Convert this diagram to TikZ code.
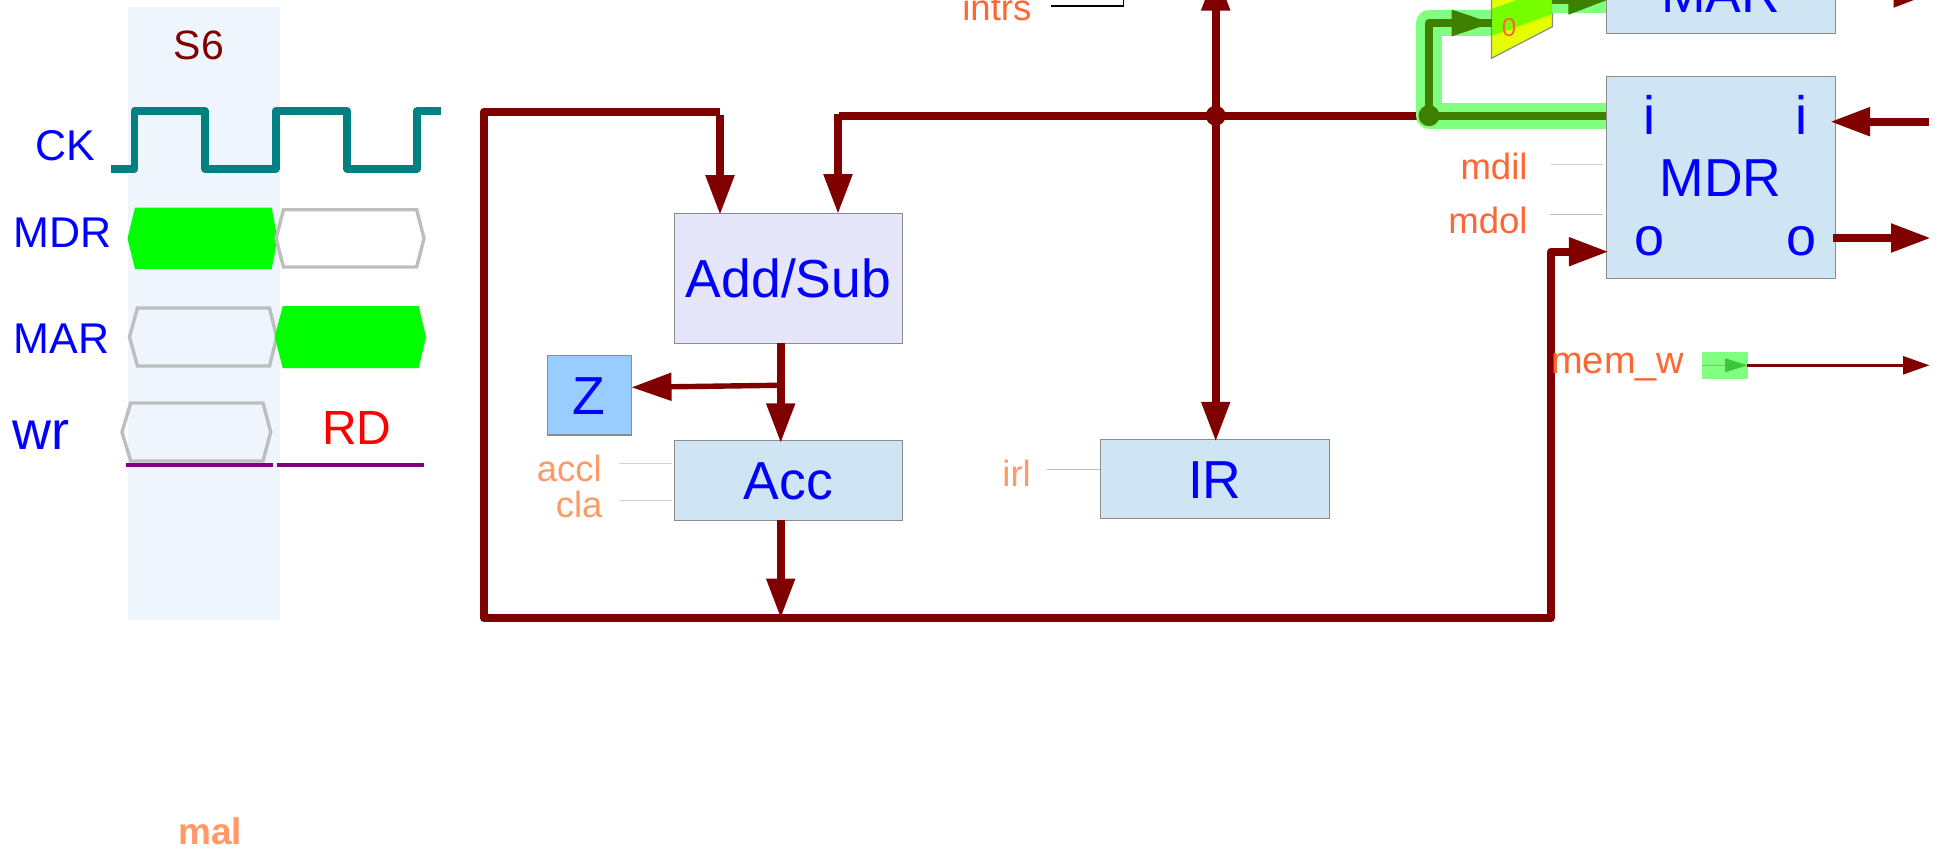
\documentclass[tikz,border=0pt]{standalone}
\usepackage{fontspec}
\setmainfont{Liberation Sans}
\usetikzlibrary{arrows.meta}
\definecolor{bus}{HTML}{800000}
\definecolor{busgreen}{HTML}{408000}
\definecolor{glow}{HTML}{80FF80}
\definecolor{regfill}{HTML}{CFE5F3}
\definecolor{addfill}{HTML}{E6E6FA}
\definecolor{zfill}{HTML}{99CCFF}
\definecolor{colshade}{HTML}{EEF5FC}
\definecolor{sig}{HTML}{FF6633}
\definecolor{sigsoft}{HTML}{FF9966}
\definecolor{clk}{HTML}{008080}
\definecolor{hexgray}{HTML}{BEBEBE}
\definecolor{tickcol}{HTML}{D3D3D3}
\definecolor{muxfill}{HTML}{E5FF00}
\definecolor{muxband}{HTML}{77FF00}
\definecolor{purp}{HTML}{800080}
\newcommand{\fsz}[1]{\fontsize{#1}{#1}\selectfont}
\tikzset{
  reg/.style={draw=black!45,line width=1.2pt,inner sep=0pt,outer sep=0pt,text=blue,
    font=\fsz{53.5},text height=38pt,text depth=0pt,align=center},
  biglab/.style={text=blue,inner sep=0pt,outer sep=0pt,anchor=base},
  ctl/.style={text=sig,inner sep=0pt,anchor=base east,font=\fsz{36.5}},
  ctlsoft/.style={text=sigsoft,inner sep=0pt,anchor=base east,font=\fsz{36.5}},
  tickline/.style={draw=tickcol,line width=1.5pt},
  busline/.style={draw=bus,line width=8pt,line join=round},
  busarrow/.style={draw=bus,fill=bus,line width=8pt,shorten >=-2.5pt,-{Triangle[length=40pt,width=27pt]}},
  greenarrow/.style={draw=busgreen,line width=8pt,line join=round,shorten >=-2pt,-{Triangle[length=40pt,width=27pt,fill=busgreen]}},
  glowline/.style={draw=glow,line width=26pt,line join=round,line cap=round},
  hexempty/.style={draw=hexgray,line width=3.4pt},
  hexfull/.style={fill=green},
}
\begin{document}
\begin{tikzpicture}[x=1pt,y=-1pt]
\path[use as bounding box,clip] (0,0) rectangle (1939,849);
\fill[white] (0,0) rectangle (1939,849);
% timing column
\fill[colshade] (127.5,7) rectangle (279.5,620);
\node[text=bus,inner sep=0pt,anchor=base,font=\fsz{41}] (s6) at (199,59) {S6};
\node[biglab,anchor=base east,font=\fsz{43}] (ck) at (95,160) {CK};
\node[biglab,anchor=base west,font=\fsz{43}] (mdrl) at (13.5,247) {MDR};
\node[biglab,anchor=base west,font=\fsz{43}] (marl) at (13.5,353) {MAR};
\node[biglab,anchor=base west,font=\fsz{54}] (wr) at (12.5,449) {wr};
\node[text=red,inner sep=0pt,anchor=base,font=\fsz{48}] (rd) at (357,444) {RD};
\draw[clk,line width=7.6pt,line join=round]
  (111,168.7) -- (134.5,168.7) -- (134.5,111) -- (205,111) -- (205,168.7) -- (275.7,168.7)
  -- (275.7,111) -- (346.7,111) -- (346.7,168.7) -- (417,168.7) -- (417,111) -- (440.7,111);
\fill[hexfull] (127.5,238.5) -- (135,207.5) -- (271.7,207.5) -- (277.5,238.5) -- (271.7,269) -- (135,269) -- cycle;
\draw[hexempty] (276,238.5) -- (283.5,209.7) -- (416.7,209.7) -- (424,238.5) -- (416.7,267) -- (283.5,267) -- cycle;
\draw[hexempty] (129.5,337) -- (137.5,308) -- (269.5,308) -- (276.7,337) -- (269.5,366) -- (137.5,366) -- cycle;
\fill[hexfull] (274.7,337) -- (282.7,306) -- (418.7,306) -- (426,337) -- (418.7,368) -- (282.7,368) -- cycle;
\draw[hexempty] (122,432) -- (130.7,403) -- (263,403) -- (270.7,432) -- (263,461) -- (130.7,461) -- cycle;
\draw[purp,line width=3.8pt] (125.7,464.6) -- (273,464.6);
\draw[purp,line width=3.8pt] (276.7,464.6) -- (424,464.6);
\node[text=sigsoft,inner sep=0pt,anchor=base,font=\bfseries\fsz{37}] (mal) at (210,844.3) {mal};
% registers
\node[reg,fill=addfill,minimum width=228.6pt,minimum height=130pt] (addsub) at (788.5,278.3) {Add/Sub};
\node[reg,fill=zfill,minimum width=84pt,minimum height=79.4pt] (z) at (589.3,395.3) {Z};
\node[reg,fill=regfill,minimum width=228.6pt,minimum height=79.4pt] (acc) at (788.5,480.5) {Acc};
\node[reg,fill=regfill,minimum width=229pt,minimum height=79.4pt] (ir) at (1214.8,479) {IR};
% coordinates
\coordinate (busA) at (484,111.7);
\coordinate (busB) at (484,618);
\coordinate (busC) at (1551,618);
\coordinate (busD) at (1551,251.7);
\coordinate (busAend) at (719.7,111.7);
\coordinate (inA) at (720,115);
\coordinate (inB) at (838,114);
\coordinate (busE) at (839,115.7);
\coordinate (j1) at (1215.7,115.7);
\coordinate (j2) at (1429,115.7);
\coordinate (up1) at (1215.7,-27);
\coordinate (corner) at (1429,23);
\coordinate (muxIn) at (1491.5,23);
\coordinate (muxOut) at (1552.4,0);
\coordinate (alu) at (780.7,343.3);
\coordinate (zt) at (777.3,385.3);
\coordinate (zin) at (634,387.3);
\coordinate (acco) at (780.7,520);
\coordinate (busmid) at (780.7,616);
\coordinate (marOutS) at (1833,-7);
\coordinate (marOutE) at (1931,-7);
\coordinate (mdrInS) at (1929,121.7);
\coordinate (mdrInT) at (1832.5,121.7);
\coordinate (mdrOutE) at (1928.5,238);
\coordinate (wS) at (1747,365.3);
\coordinate (wE) at (1928,365.3);
% bus lines
\draw[busline] (busAend) -- (busA) -- (busB) -- (busC) -- (busD) -- (1560,251.7);
\draw[busline] (busE) -- (j2);
\draw[busarrow] (inA) -- (720,212.7);
\draw[busarrow] (inB) -- (838,211.7);
\draw[busarrow] (alu) -- (alu |- acc.north);
\draw[busarrow,line width=5.4pt] (zt) -- (zin);
\draw[busarrow] (acco) -- (busmid);
\draw[busarrow] (j1) -- (up1);
\draw[busarrow] (j1) -- (j1 |- ir.north);
\fill[bus] (j1) circle (10pt);
% mux
\draw[glowline] (1606,115.7) -- (j2) -- (corner) -- (muxIn);
\fill[muxfill] (1491.5,58.3) -- (1552.4,26.7) -- (1552.4,-40) -- (1491.5,-40) -- cycle;
\fill[muxband] (1491.5,36) -- (1552.4,14) -- (1552.4,-13) -- (1491.5,9) -- cycle;
\draw[black!45,line width=1.2pt] (1491.5,-40) -- (1491.5,58.3) -- (1552.4,26.7) -- (1552.4,-40);
\node[text=sig,inner sep=0pt,anchor=base,font=\fsz{26}] (muxzero) at (1509,36.5) {0};
\fill[glow] (1552.4,-13) rectangle (1606,13);
% MAR and MDR
\node[reg,fill=regfill,minimum width=228.8pt,minimum height=80.2pt] (mar) at (1720.7,-6.7) {MAR};
\node[reg,fill=regfill,minimum width=228.8pt,minimum height=201.6pt] (mdr) at (1720.7,177.5) {MDR};
\node[biglab,font=\fsz{54}] (ii) at (1649.5,134.3) {i};
\node[biglab,font=\fsz{54}] (io) at (1801,134.3) {i};
\node[biglab,font=\fsz{54}] (oi) at (1649.5,255) {o};
\node[biglab,font=\fsz{54}] (oo) at (1801,255) {o};
% green path
\draw[draw=busgreen,line width=8pt,line join=round] (mdr.west |- j2) -- (j2) -- (corner) -- (muxIn);
\path[fill=busgreen] (muxIn) -- ++(-40,13.5) -- ++(0,-27) -- cycle;
\fill[busgreen] (j2) circle (10.5pt);
\draw[greenarrow] (muxOut) -- (mar.west |- muxOut);
% right side arrows
\draw[busarrow] (marOutS) -- (marOutE);
\draw[busarrow] (mdrInS) -- (mdrInT);
\draw[busarrow] (mdr.east |- mdrOutE) ++(-2,0) -- (mdrOutE);
\draw[busarrow] (busD) -- (mdr.west |- busD);
% control labels
\node[ctl] (mdil) at (1527.7,179.7) {mdil};
\node[ctl] (mdol) at (1527.7,233.7) {mdol};
\draw[tickline] (1550,164.7) -- (1603,164.7);
\draw[tickline,draw=hexgray] (1550,214.3) -- (1603,214.3);
\node[ctl] (memw) at (1684.5,373.2) {\fsz{38}mem\_w};
\fill[glow] (1701.5,352) rectangle (1747.5,379);
\draw[draw=green!60!black!55,line width=1pt] (1701.5,365.3) -- (1725,365.3);
\fill[green!60!black!55!glow] (1747.5,365.3) -- (1725,358.3) -- (1725,372.3) -- cycle;
\draw[draw=bus,line width=2.5pt,shorten >=-1.5pt,-{Triangle[length=26.5pt,width=18pt,fill=bus]}] (wS) -- (wE);
\node[ctlsoft] (accl) at (602,481) {accl};
\node[ctlsoft] (cla) at (602.7,517.7) {cla};
\draw[tickline] (618.7,463.5) -- (672,463.5);
\draw[tickline] (618.7,500.5) -- (672,500.5);
\node[ctlsoft] (irl) at (1031,486) {irl};
\draw[tickline,draw=hexgray] (1047.4,469.3) -- (ir.west |- 0,469.3);
\node[ctl] (intrs) at (1031.5,20.5) {intrs};
\draw[line width=1.2pt] (1051,6) -- (1123.7,6) -- (1123.7,-5);
\end{tikzpicture}
\end{document}
